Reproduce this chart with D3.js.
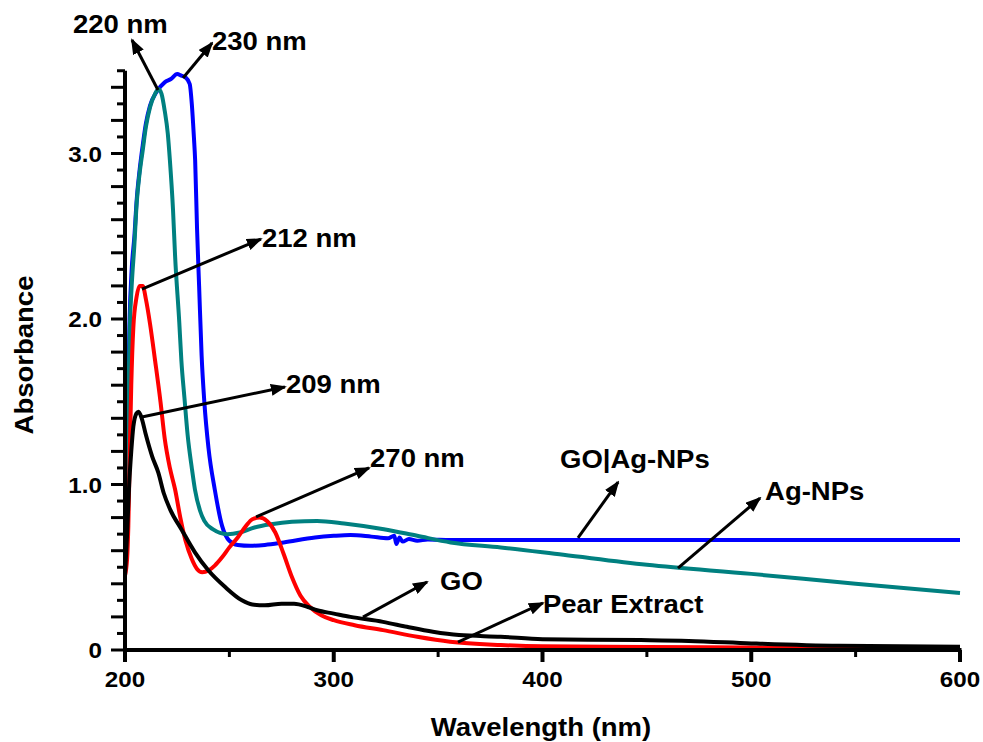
<!DOCTYPE html>
<html>
<head>
<meta charset="utf-8">
<script src="https://cdn.jsdelivr.net/npm/d3@7"></script>
<style>
  body { margin: 0; background: #fff; }
  svg text { font-family: "Liberation Sans", Arial, sans-serif; font-weight: bold; fill: #000; }
</style>
</head>
<body>
<svg id="chart" width="983" height="742"></svg>
<script>
// spectra, [wavelength (nm), absorbance]
var goAgNPs = [[200,0.5],[200.7,0.9],[201.4,1.5],[202.2,2.0],[203.2,2.3],[204.5,2.5],[205.6,2.72],[207,2.9],[208.5,3.05],[210,3.18],[212,3.29],[215,3.37],[219,3.43],[222,3.45],[225,3.48],[227,3.47],[229,3.46],[231,3.42],[232,3.3],[233,3.1],[233.6,2.96],[234.5,2.55],[235.5,2.2],[236.7,1.78],[238,1.5],[240,1.22],[243,0.97],[246.5,0.75],[250,0.66],[254,0.635],[260,0.63],[267,0.635],[276,0.65],[291,0.68],[300,0.69],[308,0.695],[318,0.685],[326,0.675],[329,0.69],[330,0.64],[331.5,0.68],[333,0.655],[336,0.67],[340,0.66],[345,0.668],[356,0.665],[380,0.665],[450,0.665],[600,0.665]];
var agNPs = [[200,0.5],[200.8,0.9],[201.5,1.45],[202.3,1.95],[203.2,2.2],[204.5,2.45],[205.6,2.7],[207,2.88],[208.5,3.02],[210,3.16],[212,3.28],[214.4,3.36],[216,3.39],[217.5,3.36],[219,3.26],[220.5,3.12],[221.5,2.96],[223,2.66],[224,2.38],[226,1.98],[227,1.75],[228.5,1.52],[230,1.3],[232,1.1],[233.5,0.97],[236,0.84],[238,0.78],[242,0.73],[249,0.7],[255,0.71],[262,0.74],[270,0.76],[280,0.775],[292,0.78],[305,0.765],[324,0.73],[340,0.69],[356,0.65],[380,0.62],[410,0.575],[450,0.515],[500,0.46],[550,0.4],[600,0.345]];
var pearExtract = [[200,0.45],[201,0.55],[201.6,0.75],[202.3,1.2],[203,1.6],[204,1.95],[205.5,2.13],[207,2.2],[208.5,2.2],[210,2.12],[212,1.97],[214.4,1.75],[217,1.5],[219,1.28],[221.5,1.1],[224,0.97],[226.5,0.8],[229,0.66],[232,0.55],[234.5,0.49],[237,0.47],[240,0.48],[243,0.51],[246.5,0.56],[250,0.62],[254,0.68],[258,0.75],[261,0.79],[264.5,0.8],[268,0.78],[272,0.71],[276,0.58],[280,0.44],[284,0.33],[288.6,0.26],[294,0.21],[300,0.18],[310,0.15],[323.6,0.12],[340,0.08],[355.7,0.05],[380,0.03],[400,0.022],[450,0.018],[500,0.015],[600,0.012]];
var go = [[200,0.45],[201,0.7],[202,1.0],[203,1.2],[204,1.35],[205.5,1.43],[206.5,1.44],[208,1.4],[210,1.3],[213,1.17],[216,1.07],[218.5,0.95],[221.6,0.85],[227,0.73],[233.5,0.59],[240,0.48],[248,0.38],[256,0.3],[261,0.275],[267,0.27],[275,0.28],[281,0.28],[287.6,0.26],[292,0.24],[300,0.22],[308,0.2],[323.6,0.17],[335,0.14],[347.5,0.11],[360,0.09],[380,0.08],[400,0.065],[447,0.06],[470,0.055],[500,0.04],[542,0.025],[600,0.02]];

var seriesNames = ["GO|Ag-NPs", "Ag-NPs", "Pear Extract", "GO"];
var seriesColors = ["#0000ff", "#008080", "#ff0000", "#000000"];

var xTickValues = [200, 300, 400, 500, 600];
var xTickLabels = ["200", "300", "400", "500", "600"];
var xMinorTicks = [250, 350, 450, 550];
var yTickValues = [0, 1, 2, 3];
var yTickLabels = ["0", "1.0", "2.0", "3.0"];

// annotation arrows: tail on curve -> head, both in data units
var arrowTails = [[215.8,3.384],[227.8,3.456],[208.1,2.181],[208.1,1.408],[262.8,0.804],[417.0,0.677],[464.9,0.495],[314.0,0.199],[359.5,0.048]];
var arrowHeads = [[203.35,3.686],[241.7,3.668],[265.1,2.483],[276.6,1.589],[316.9,1.100],[436.2,1.015],[504.2,0.918],[344.7,0.411],[400.2,0.284]];
var noteTexts = ["220 nm","230 nm","212 nm","209 nm","270 nm","GO|Ag-NPs","Ag-NPs","GO","Pear Extract"];
var notePos = [[175.1,3.728],[241.7,3.625],[265.6,2.435],[277.1,1.553],[317.4,1.106],[408.4,1.100],[506.6,0.906],[350.9,0.363],[400.2,0.224]];

var svg = d3.select("#chart");

var x = d3.scaleLinear().domain([200, 600]).range([125, 960]);
var y = d3.scaleLinear().domain([0, 3.5]).range([650, 70.75]);

var line = d3.line()
    .x(function(d) { return x(d[0]); })
    .y(function(d) { return y(d[1]); })
    .curve(d3.curveMonotoneX);

// curves
var allSeries = [goAgNPs, agNPs, pearExtract, go];
svg.selectAll("path.spectrum")
    .data(allSeries)
    .enter()
    .append("path")
    .attr("class", "spectrum")
    .attr("d", line)
    .attr("fill", "none")
    .attr("stroke", function(d, i) { return seriesColors[i]; })
    .attr("stroke-width", 4)
    .attr("stroke-linejoin", "round");

// axes
var axes = svg.append("g");
axes.append("line")
    .attr("x1", x(200)).attr("x2", x(200))
    .attr("y1", y(0) + 2).attr("y2", y(3.5))
    .attr("stroke", "#000").attr("stroke-width", 4);
axes.append("line")
    .attr("x1", x(200) - 2).attr("x2", x(600) + 1.5)
    .attr("y1", y(0)).attr("y2", y(0))
    .attr("stroke", "#000").attr("stroke-width", 4);

axes.selectAll("line.xmajor")
    .data(xTickValues).enter().append("line")
    .attr("x1", function(d) { return x(d); }).attr("x2", function(d) { return x(d); })
    .attr("y1", y(0)).attr("y2", y(0) + 12)
    .attr("stroke", "#000").attr("stroke-width", 4);
axes.selectAll("line.xminor")
    .data(xMinorTicks).enter().append("line")
    .attr("x1", function(d) { return x(d); }).attr("x2", function(d) { return x(d); })
    .attr("y1", y(0)).attr("y2", y(0) + 7)
    .attr("stroke", "#000").attr("stroke-width", 3);

var yMinor = y.ticks(35);
axes.selectAll("line.ytick")
    .data(yMinor).enter().append("line")
    .attr("x1", x(200))
    .attr("x2", function(d) { return x(200) - (Math.round(d * 10) % 2 === 0 ? 14 : 8); })
    .attr("y1", function(d) { return y(d); }).attr("y2", function(d) { return y(d); })
    .attr("stroke", "#000").attr("stroke-width", 3);

function stretchedText(parent, str, tx, ty, size, anchor, rotate) {
    var g = parent.append("g")
        .attr("transform", "translate(" + tx + "," + ty + ")" + (rotate ? " rotate(" + rotate + ")" : ""));
    return g.append("text")
        .attr("transform", "scale(1.1,1)")
        .attr("text-anchor", anchor)
        .style("font-size", size + "px")
        .text(str);
}

xTickValues.forEach(function(v, i) {
    stretchedText(axes, xTickLabels[i], x(v), 687, 22, "middle");
});
yTickValues.forEach(function(v, i) {
    stretchedText(axes, yTickLabels[i], 102, y(v) + 8, 22, "end");
});

stretchedText(svg, "Wavelength (nm)", 541, 736, 25, "middle");
stretchedText(svg, "Absorbance", 33, 355, 25, "middle", -90);

// arrows
svg.append("defs").append("marker")
    .attr("id", "head")
    .attr("markerUnits", "userSpaceOnUse")
    .attr("viewBox", "0 0 16 12")
    .attr("refX", 14).attr("refY", 6)
    .attr("markerWidth", 16).attr("markerHeight", 12)
    .attr("orient", "auto")
    .append("path")
    .attr("d", "M0,0 L16,6 L0,12 Z")
    .attr("fill", "#000");

svg.selectAll("line.arrow")
    .data(arrowTails).enter().append("line")
    .attr("class", "arrow")
    .attr("x1", function(d) { return x(d[0]); })
    .attr("y1", function(d) { return y(d[1]); })
    .attr("x2", function(d, i) { return x(arrowHeads[i][0]); })
    .attr("y2", function(d, i) { return y(arrowHeads[i][1]); })
    .attr("stroke", "#000")
    .attr("stroke-width", 3)
    .attr("marker-end", "url(#head)");

noteTexts.forEach(function(t, i) {
    stretchedText(svg, t, x(notePos[i][0]), y(notePos[i][1]), 25, "start");
});
</script>
</body>
</html>
